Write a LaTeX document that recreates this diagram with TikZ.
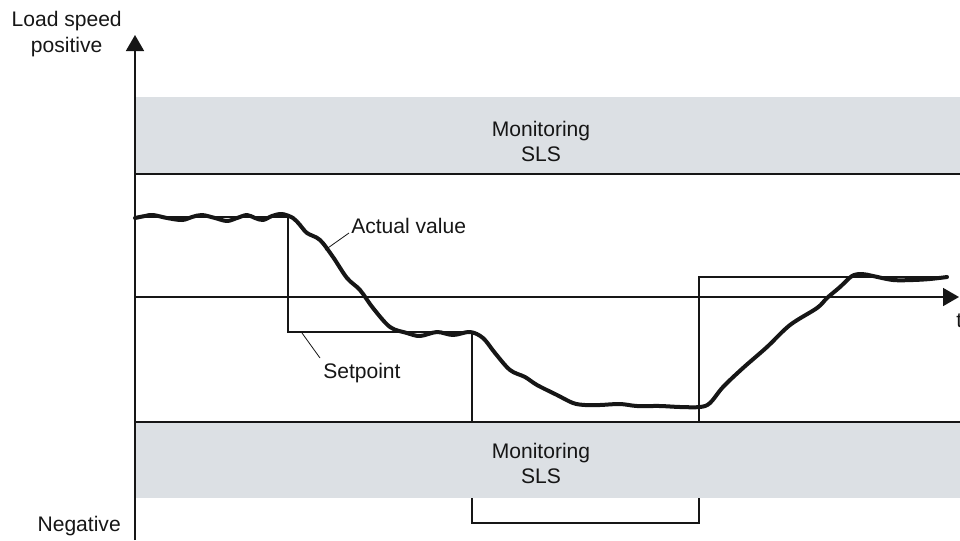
\documentclass[tikz,border=0pt]{standalone}
\usepackage{fontspec}
\setmainfont{Liberation Sans}
\usetikzlibrary{arrows.meta}
\definecolor{bandgray}{RGB}{220,224,228}
\definecolor{ink}{RGB}{22,22,22}

\tikzset{
  axis/.style={draw=ink, line width=1.3pt, -{Triangle[length=12pt, width=13.5pt]}},
  band/.style={fill=bandgray, draw=none},
  bandedge/.style={draw=ink, line width=1.5pt},
  setpt/.style={draw=ink, line width=1.05pt},
  actual/.style={draw=ink, line width=3pt, line cap=round, line join=round},
  leader/.style={draw=ink, line width=0.6pt},
  lbl/.style={inner sep=0pt, text=ink, align=center},
}

\begin{document}
\begin{tikzpicture}[x=0.75pt, y=-0.75pt, font=\fontsize{15.8}{18.8}\selectfont]
\useasboundingbox (0,0) rectangle (960,540);

% setpoint staircase (partly hidden behind the lower band)
\draw[setpt] (135,217) -- (288,217) -- (288,332) -- (472,332) -- (472,523)
  -- (699,523) -- (699,277) -- (947,277);

% monitoring bands
\fill[band] (136,97) rectangle (960,174);
\fill[band] (136,422) rectangle (960,498);
\draw[bandedge] (136,174) -- (960,174);
\draw[bandedge] (136,422) -- (960,422);

\node[lbl] (mon1) at (541,141) {Monitoring\\SLS};
\node[lbl] (mon2) at (541,463) {Monitoring\\SLS};

% axes
\coordinate (ybot) at (135,540);
\coordinate (ytop) at (135,35);
\coordinate (t0) at (135,297);
\coordinate (t1) at (959,297);
\draw[axis] (ybot) -- (ytop);
\draw[axis] (t0) -- (t1);

\node[lbl, anchor=base east] (lpos) at (122,52) {Load speed\\positive};
\node[lbl, anchor=base east] (lneg) at (121,531) {Negative};
\node[lbl, anchor=base west] (tlab) at (956,327) {t};

% actual value
\draw[actual] plot[smooth, tension=0.55] coordinates {
  (135,218) (145,216) (153,215) (167,218) (182,220) (192,217) (202,215)
  (215,218) (227,221) (237,218) (247,215) (255,218) (263,220) (272,216)
  (282,214) (293,218) (300,225) (307,233) (320,240) (333,257) (347,278)
  (360,290) (373,308) (390,327) (407,333) (420,336) (437,332) (453,335)
  (470,332) (483,338) (495,353) (510,370) (525,377) (537,385) (557,395)
  (573,403) (585,405) (600,405) (620,404) (637,406) (660,406) (680,407)
  (700,407) (710,403) (723,387) (743,368) (767,347) (790,325) (817,308)
  (827,298) (840,287) (852,276) (862,274) (873,276) (893,280) (913,280)
  (930,279) (947,277)};

% labels with leader lines
\node[lbl, anchor=base west] (avlab) at (351,233) {Actual value};
\coordinate (avpt) at (325,250);
\draw[leader] (avpt) -- ([xshift=-1.5pt]avlab.base west);

\node[lbl, anchor=base west] (splab) at (323,378) {Setpoint};
\coordinate (sppt) at (302,333);
\draw[leader] (sppt) -- ([shift={(-3,-20)}]splab.base west);
\end{tikzpicture}
\end{document}
